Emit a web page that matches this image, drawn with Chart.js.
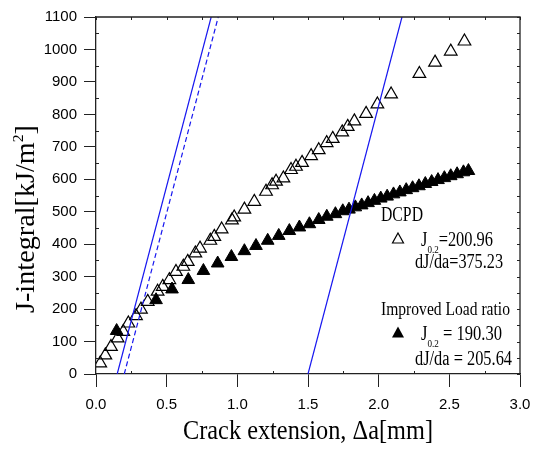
<!DOCTYPE html>
<html lang="en">
<head>
<meta charset="UTF-8">
<title>J-R curve</title>
<style>
  body { margin: 0; background: #fff; }
  canvas { display: block; }
</style>
</head>
<body>
<canvas id="jrChart" width="541" height="451"></canvas>
<script src="https://cdn.jsdelivr.net/npm/chart.js"></script>
<script>
// DCPD (open triangles)
const dcpdX = [0.03, 0.066, 0.106, 0.153, 0.193, 0.229, 0.283, 0.318, 0.366, 0.436, 0.472, 0.519,
               0.566, 0.618, 0.649, 0.703, 0.736, 0.809, 0.837, 0.889, 0.962, 0.978, 1.05, 1.12,
               1.203, 1.246, 1.274, 1.326, 1.38, 1.415, 1.458, 1.522, 1.576, 1.632, 1.675, 1.742,
               1.781, 1.828, 1.911, 1.991, 2.088, 2.288, 2.399, 2.51, 2.607];
const dcpdY = [33, 58, 84, 110, 130, 156, 179, 199, 223, 254, 269, 290,
               315, 331, 346, 372, 387, 411, 423, 446, 474, 483, 507, 531,
               562, 582, 593, 603, 629, 639, 651, 672, 690, 712, 725, 745,
               762, 779, 802, 831, 862, 925, 960, 994, 1025];

// Improved load ratio (filled triangles)
const loadX = [0.146, 0.425, 0.538, 0.653, 0.76, 0.861, 0.958, 1.05, 1.132, 1.215, 1.293, 1.368,
               1.439, 1.51, 1.576, 1.633, 1.694, 1.746, 1.79, 1.835, 1.88, 1.925, 1.97, 2.015,
               2.06, 2.105, 2.15, 2.195, 2.24, 2.285, 2.33, 2.375, 2.42, 2.465, 2.51, 2.555,
               2.6, 2.635];
const loadY = [133, 228, 261, 290, 318, 341, 361, 379, 395, 411, 426, 441,
               452, 462, 475, 485, 493, 502, 507, 514, 520, 527, 534, 541,
               547, 554, 560, 567, 573, 579, 586, 592, 598, 604, 610, 616,
               622, 626];

// blunting / offset lines
const offs015X = [0.15, 0.815];
const offs02X = [0.2, 0.865];
const offs15X = [1.5, 2.165];
const offsY = [0, 1100];

const xTicks = [0, 0.5, 1.0, 1.5, 2.0, 2.5, 3.0];
const yTicks = [0, 100, 200, 300, 400, 500, 600, 700, 800, 900, 1000, 1100];

const toPts = (xs, ys) => xs.map((x, i) => ({ x: x, y: ys[i] }));

function offsetLine(xs, dash) {
    return {
        data: toPts(xs, offsY),
        showLine: true,
        borderColor: '#1717f0',
        borderWidth: 1.2,
        borderDash: dash,
        pointRadius: 0,
        fill: false
    };
}

// draws a line of text made of runs [text, size, dy], squeezed to width w
function drawRuns(ctx, parts, x, y, w) {
    let total = 0;
    parts.forEach(p => {
        ctx.font = p[1] + 'px "Liberation Serif"';
        total += ctx.measureText(p[0]).width;
    });
    ctx.save();
    ctx.translate(x, y);
    ctx.scale(w / total, 1);
    let cx = 0;
    parts.forEach(p => {
        ctx.font = p[1] + 'px "Liberation Serif"';
        ctx.fillText(p[0], cx, p[2] || 0);
        cx += ctx.measureText(p[0]).width;
    });
    ctx.restore();
}

function triangle(ctx, cx, cy, w, h, filled) {
    ctx.beginPath();
    ctx.moveTo(cx, cy - h * 0.6);
    ctx.lineTo(cx + w / 2, cy + h * 0.4);
    ctx.lineTo(cx - w / 2, cy + h * 0.4);
    ctx.closePath();
    if (filled) ctx.fill(); else ctx.stroke();
}

const decor = {
    id: 'decor',
    afterDraw(chart) {
        const ctx = chart.ctx;
        const a = chart.chartArea;
        const xs = chart.scales.x, ys = chart.scales.y;
        ctx.save();
        ctx.strokeStyle = '#222';
        ctx.lineWidth = 1.3;
        ctx.beginPath();
        ctx.moveTo(a.left, a.top);
        ctx.lineTo(a.right, a.top);
        ctx.lineTo(a.right, a.bottom);
        ctx.stroke();

        // small inward ticks
        ctx.lineWidth = 1;
        ctx.beginPath();
        for (let i = 0; i <= 12; i++) {
            const px = Math.round(xs.getPixelForValue(i * 0.25)) + 0.5;
            ctx.moveTo(px, a.top);
            ctx.lineTo(px, a.top + 3);
            if (i % 2) {
                ctx.moveTo(px, a.bottom);
                ctx.lineTo(px, a.bottom - 3);
            }
        }
        for (let i = 0; i <= 22; i++) {
            const py = Math.round(ys.getPixelForValue(i * 50)) + 0.5;
            ctx.moveTo(a.right, py);
            ctx.lineTo(a.right - 3, py);
            if (i % 2) {
                ctx.moveTo(a.left, py);
                ctx.lineTo(a.left + 3, py);
            }
        }
        ctx.stroke();

        // axis titles
        ctx.fillStyle = '#000';
        ctx.textBaseline = 'alphabetic';
        ctx.textAlign = 'left';
        drawRuns(ctx, [['Crack extension, \u0394a[mm]', 27]], 183, 439, 250);
        ctx.save();
        ctx.translate(34, 313);
        ctx.rotate(-Math.PI / 2);
        drawRuns(ctx, [['J-integral[kJ/m', 27], ['2', 15, -11], [']', 27]], 0, 0, 188);
        ctx.restore();

        // annotation
        drawRuns(ctx, [['DCPD', 20]], 381, 221, 42);
        drawRuns(ctx, [['J', 20], ['0.2', 11, 7], ['=200.96', 20]], 421, 246, 72);
        drawRuns(ctx, [['dJ/da=375.23', 20]], 415, 268, 88);
        drawRuns(ctx, [['Improved Load ratio', 19]], 381, 315, 129);
        drawRuns(ctx, [['J', 20], ['0.2', 11, 7], [' = 190.30', 20]], 421, 340, 81);
        drawRuns(ctx, [['dJ/da = 205.64', 20]], 415, 365, 97);

        ctx.strokeStyle = '#000';
        ctx.lineWidth = 1.2;
        triangle(ctx, 398, 239, 11, 10, false);
        ctx.fillStyle = '#000';
        triangle(ctx, 398, 333, 12, 11, true);
        ctx.restore();
    }
};

new Chart(document.getElementById('jrChart'), {
    type: 'scatter',
    data: {
        datasets: [
            offsetLine(offs015X, []),
            offsetLine(offs02X, [5, 3]),
            offsetLine(offs15X, []),
            {
                label: 'DCPD',
                data: toPts(dcpdX, dcpdY),
                pointStyle: 'triangle',
                pointRadius: 7.3,
                pointBorderWidth: 1.2,
                borderColor: '#000',
                backgroundColor: 'rgba(0,0,0,0)'
            },
            {
                label: 'Improved Load ratio',
                data: toPts(loadX, loadY),
                pointStyle: 'triangle',
                pointRadius: 7.3,
                pointBorderWidth: 1,
                borderColor: '#000',
                backgroundColor: '#000'
            }
        ]
    },
    options: {
        responsive: false,
        animation: false,
        events: [],
        layout: { padding: { left: 0, top: 17, right: 21, bottom: 0 } },
        plugins: { legend: { display: false }, tooltip: { enabled: false } },
        scales: {
            x: {
                type: 'linear',
                min: 0, max: 3,
                afterFit: s => { s.height = 77; },
                afterBuildTicks: s => { s.ticks = xTicks.map(v => ({ value: v })); },
                ticks: {
                    callback: v => v.toFixed(1),
                    color: '#000',
                    font: { family: '"Liberation Sans"', size: 15 },
                    padding: 9,
                    maxRotation: 0
                },
                grid: { drawOnChartArea: false, drawTicks: true, tickLength: 13, color: '#222', lineWidth: 1 },
                border: { display: true, color: '#222', width: 1.3 }
            },
            y: {
                type: 'linear',
                min: 0, max: 1100,
                afterFit: s => { s.width = 96; },
                afterBuildTicks: s => { s.ticks = yTicks.map(v => ({ value: v })); },
                ticks: {
                    callback: v => String(v),
                    color: '#000',
                    font: { family: '"Liberation Sans"', size: 15 },
                    padding: 7
                },
                grid: { drawOnChartArea: false, drawTicks: true, tickLength: 12, color: '#222', lineWidth: 1 },
                border: { display: true, color: '#222', width: 1.3 }
            }
        }
    },
    plugins: [decor]
});
</script>
</body>
</html>
